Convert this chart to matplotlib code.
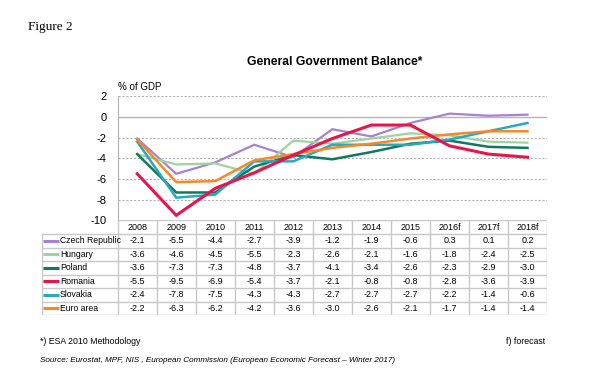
import matplotlib.pyplot as plt

plt.rcParams['font.family'] = ['Liberation Sans', 'DejaVu Sans']
plt.rcParams['axes.unicode_minus'] = False

years = ['2008', '2009', '2010', '2011', '2012', '2013', '2014', '2015', '2016f', '2017f', '2018f']
countries = ['Czech Republic', 'Hungary', 'Poland', 'Romania', 'Slovakia', 'Euro area']
czech = [-2.1, -5.5, -4.4, -2.7, -3.9, -1.2, -1.9, -0.6, 0.3, 0.1, 0.2]
hungary = [-3.6, -4.6, -4.5, -5.5, -2.3, -2.6, -2.1, -1.6, -1.8, -2.4, -2.5]
poland = [-3.6, -7.3, -7.3, -4.8, -3.7, -4.1, -3.4, -2.6, -2.3, -2.9, -3.0]
romania = [-5.5, -9.5, -6.9, -5.4, -3.7, -2.1, -0.8, -0.8, -2.8, -3.6, -3.9]
slovakia = [-2.4, -7.8, -7.5, -4.3, -4.3, -2.7, -2.7, -2.7, -2.2, -1.4, -0.6]
euro_area = [-2.2, -6.3, -6.2, -4.2, -3.6, -3.0, -2.6, -2.1, -1.7, -1.4, -1.4]
series = [czech, hungary, poland, romania, slovakia, euro_area]
colors = ['#a782d0', '#9fd3a0', '#10795c', '#e8154c', '#28a9bf', '#f5892a']
widths = [1.6, 1.6, 1.8, 2.2, 1.8, 1.8]

W, H = 600, 391
fig = plt.figure(figsize=(6, 3.91), dpi=100)

# chart area (pixel layout converted to figure fractions)
x0, x1 = 117.7, 547.0
ax = fig.add_axes([x0 / W, 1 - 220.5 / H, (x1 - x0) / W, (220.5 - 96) / H])
xs = list(range(len(years)))
for vals, c, lw, name in zip(series, colors, widths, countries):
    ax.plot(xs, vals, color=c, lw=lw, solid_joinstyle='miter',
            zorder=4 if name == 'Romania' else 3)
ax.set_xlim(-0.5, len(years) - 0.5)
ax.set_ylim(-10, 2)
ax.set_yticks(range(-10, 3, 2))
ax.set_xticks([])
ax.tick_params(axis='y', length=0, labelsize=8, pad=8)
for s in ['top', 'right', 'bottom']:
    ax.spines[s].set_visible(False)
ax.spines['left'].set_color('#b0b0b0')
for y in [2, -2, -4, -6, -8]:
    ax.axhline(y, color='#b5b5b5', lw=0.8, ls=(0, (2, 1.5)), zorder=1)
ax.axhline(0, color='#b5b5b5', lw=1.0, zorder=1)
ax.text(0.0, 1.03, '% of GDP', transform=ax.transAxes, fontsize=7, ha='left', va='bottom')

# table
tx0 = 41.7
col_w = (x1 - x0) / len(years)
lab_w = (x0 - tx0) / col_w
tab = fig.add_axes([tx0 / W, 1 - 315 / H, (x1 - tx0) / W, (315 - 220) / H])
tab.set_xlim(-0.5 - lab_w, len(years) - 0.5)
tab.set_ylim(315, 220)
tab.axis('off')
grid = '#c8c8c8'
row_edges = [220, 234] + [234 + 13.5 * (i + 1) for i in range(len(countries))]
left = -0.5 - lab_w
right = len(years) - 0.5
# horizontal lines
tab.plot([-0.5, right], [220, 220], color=grid, lw=1)
for y in row_edges[1:]:
    tab.plot([left, right], [y, y], color=grid, lw=1)
# vertical lines
tab.plot([left, left], [234, 315], color=grid, lw=1)
for i in range(len(years) + 1):
    tab.plot([i - 0.5, i - 0.5], [220, 315], color=grid, lw=1)
for i, yr in enumerate(years):
    tab.text(i, 227.5, yr, ha='center', va='center', fontsize=6.5)
for r, (name, vals, c) in enumerate(zip(countries, series, colors)):
    yc = (row_edges[r + 1] + row_edges[r + 2]) / 2
    tab.plot([left + 0.03, left + 0.45], [yc, yc], color=c, lw=2.2, solid_capstyle='butt')
    tab.text(left + 0.47, yc, name, ha='left', va='center', fontsize=6.2)
    for i, v in enumerate(vals):
        tab.text(i, yc, f'{v:.1f}', ha='center', va='center', fontsize=6.5)

fig.text(28 / W, 1 - 27 / H, 'Figure 2', family=['Liberation Serif'], fontsize=9.5, va='center')
fig.text(335 / W, 1 - 62 / H, 'General Government Balance*', fontsize=8.7, fontweight='bold',
         ha='center', va='center')
fig.text(40 / W, 1 - 342 / H, '*) ESA 2010 Methodology', fontsize=6.3, va='center')
fig.text(545 / W, 1 - 342 / H, 'f) forecast', fontsize=6.3, va='center', ha='right')
fig.text(40 / W, 1 - 360 / H,
         'Source: Eurostat, MPF, NIS , European Commission (European Economic Forecast \u2013 Winter 2017)',
         fontsize=5.9, va='center', style='italic')

fig.savefig('out.png', dpi=100)
